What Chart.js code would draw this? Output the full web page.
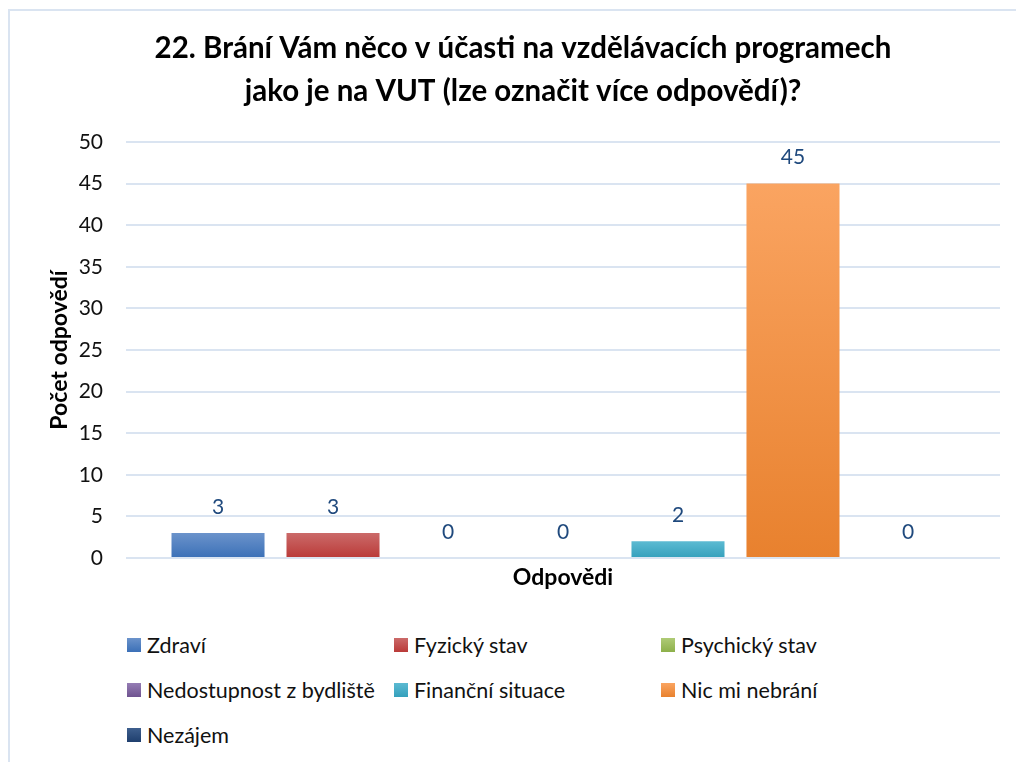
<!DOCTYPE html>
<html>
<head>
<meta charset="utf-8">
<script src="https://cdn.jsdelivr.net/npm/chart.js@4.4.1/dist/chart.umd.min.js"></script>
<style>
    body { margin: 0; background: #fff; font-family: Lato, "Noto Sans", sans-serif; }
    #wrap { position: relative; width: 1016px; height: 762px; overflow: hidden; background: #fff; }
    #frame { position: absolute; left: 8px; top: 9px; width: 1100px; height: 900px; border: 2px solid #dae4f1; }
    #chart { position: absolute; left: 0; top: 0; }
    #legend { position: absolute; left: 127px; top: 622px; display: grid; grid-template-columns: 267px 267px 267px; }
    .item { height: 45px; display: flex; align-items: center; font-size: 21.5px; color: #111; white-space: nowrap; }
    .box { width: 14px; height: 14px; margin-right: 6px; flex: none; }
</style>
</head>
<body>
<div id="wrap">
    <div id="frame"></div>
    <canvas id="chart" width="1016" height="600"></canvas>
    <div id="legend"></div>
</div>
<script>
// data
const categories = [""];
const seriesNames = ["Zdraví", "Fyzický stav", "Psychický stav", "Nedostupnost z bydliště", "Finanční situace", "Nic mi nebrání", "Nezájem"];
const seriesValues = [3, 3, 0, 0, 2, 45, 0];
const yMin = 0, yMax = 50, yStep = 5;

// colours (top / bottom of the gradient)
const colorsTop = ["#6b93cb", "#cb6a69", "#afcb76", "#957db4", "#5cbad2", "#faa461", "#3e5f8e"];
const colorsBottom = ["#3b70b7", "#ba3a38", "#8db04a", "#6f5390", "#34a0bc", "#e8812e", "#1f3f6e"];

const FONT = "Lato, 'Noto Sans', sans-serif";

function barFill(i) {
    return function(ctx) {
        const chart = ctx.chart;
        const y = chart.scales.y;
        if (!y || ctx.type !== "data") return colorsBottom[i];
        const top = y.getPixelForValue(ctx.raw);
        const base = y.getPixelForValue(0);
        if (!isFinite(top) || !isFinite(base) || base - top < 1) return colorsBottom[i];
        const g = chart.ctx.createLinearGradient(0, top, 0, base);
        g.addColorStop(0, colorsTop[i]);
        g.addColorStop(1, colorsBottom[i]);
        return g;
    };
}

// value labels above bars
const valueLabels = {
    id: "valueLabels",
    afterDatasetsDraw(chart) {
        const c = chart.ctx;
        c.save();
        c.font = "21px " + FONT;
        c.fillStyle = "#1f497d";
        c.textAlign = "center";
        c.textBaseline = "middle";
        chart.data.datasets.forEach((ds, i) => {
            chart.getDatasetMeta(i).data.forEach((el, j) => {
                c.fillText(ds.data[j], el.x, el.y - 26);
            });
        });
        c.restore();
    }
};

const datasets = seriesNames.map((name, i) => ({
    label: name,
    data: [seriesValues[i]],
    backgroundColor: barFill(i),
    categoryPercentage: 0.921,
    barPercentage: 0.809
}));

new Chart(document.getElementById("chart"), {
    type: "bar",
    data: { labels: categories, datasets: datasets },
    plugins: [valueLabels],
    options: {
        responsive: false,
        animation: false,
        layout: { padding: { left: 46, right: 16, top: 27, bottom: 11 } },
        plugins: {
            legend: { display: false },
            tooltip: { enabled: false },
            title: {
                display: true,
                text: ["22. Brání Vám něco v účasti na vzdělávacích programech", "jako je na VUT (lze označit více odpovědí)?"],
                color: "#000",
                font: { family: FONT, size: 29.5, weight: "bold", lineHeight: 1.458 },
                padding: { top: 0, bottom: 29 }
            }
        },
        scales: {
            x: {
                grid: { display: false, drawTicks: false },
                border: { display: false },
                ticks: { display: false },
                title: {
                    display: true,
                    text: "Odpovědi",
                    color: "#000",
                    font: { family: FONT, size: 23, weight: "bold", lineHeight: 1.0 },
                    padding: { top: 8, bottom: 0 }
                }
            },
            y: {
                min: yMin,
                max: yMax,
                afterFit(scale) { scale.width = 80; },
                ticks: {
                    stepSize: yStep,
                    color: "#111",
                    padding: 23,
                    font: { family: FONT, size: 21 }
                },
                grid: { color: "#dae4f1", lineWidth: 2, drawTicks: false },
                border: { display: false },
                title: {
                    display: true,
                    text: "Počet odpovědí",
                    color: "#000",
                    font: { family: FONT, size: 23, weight: "bold" },
                    padding: { top: 0, bottom: 0 }
                }
            }
        }
    }
});

// legend in three columns
const legend = document.getElementById("legend");
seriesNames.forEach((name, i) => {
    const item = document.createElement("div");
    item.className = "item";
    const box = document.createElement("span");
    box.className = "box";
    box.style.background = "linear-gradient(" + colorsTop[i] + ", " + colorsBottom[i] + ")";
    item.appendChild(box);
    item.appendChild(document.createTextNode(name));
    legend.appendChild(item);
});
</script>
</body>
</html>
